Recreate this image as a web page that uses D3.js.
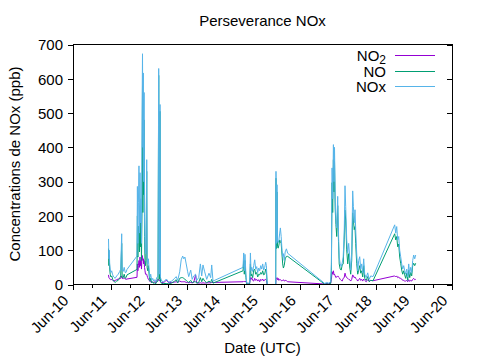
<!DOCTYPE html>
<html><head><meta charset="utf-8">
<script src="https://cdn.jsdelivr.net/npm/d3@7"></script>
<style>
body{margin:0;background:#fff}
svg{display:block}
text{font-family:"Liberation Sans",Arial,sans-serif;fill:#000}
</style>
</head><body>
<svg id="c" width="480" height="360"></svg>
<script>
// time as decimal day of June (UTC)
const dayOfJune = [
 10.937,10.947,10.958,10.968,10.982,11.000,11.021,11.047,11.074,11.113,11.153,11.193,11.232,11.259,11.285,11.298,11.325,11.351,11.377,11.398,11.425,
 11.689,11.699,11.712,11.726,11.741,11.755,11.768,11.781,11.794,11.807,11.823,11.834,11.844,11.855,11.865,11.876,11.887,11.900,11.913,11.926,11.945,11.955,11.971,11.989,12.011,12.032,12.050,12.077,12.103,12.129,12.156,12.182,12.208,12.243,12.261,12.280,12.296,12.309,12.340,
 12.393,12.464,12.525,12.604,12.683,12.723,12.763,12.815,12.855,12.894,12.923,12.953,12.987,13.026,13.053,13.106,13.145,13.185,13.234,13.264,13.317,13.361,13.396,13.430,13.475,13.528,13.588,13.633,13.660,13.694,
 14.486,14.504,14.520,14.538,14.562,14.583,14.623,14.662,14.681,14.697,14.715,14.741,14.768,14.794,14.821,14.847,14.873,14.900,14.926,14.953,14.979,15.005,15.032,15.058,15.084,15.103,15.124,15.348,
 15.356,15.369,15.383,15.396,15.414,15.433,15.454,15.472,15.493,15.515,15.533,15.551,15.573,15.599,15.631,15.665,
 16.641,16.694,16.747,16.799,16.818,16.836,16.852,16.871,16.887,16.900,16.918,16.937,16.958,16.984,17.005,17.024,17.050,17.077,17.103,17.129,17.156,17.177,17.195,17.222,17.248,17.274,17.301,17.327,17.354,17.380,17.398,17.420,17.441,17.459,17.485,17.512,17.538,17.565,17.591,17.617,17.644,17.670,17.697,17.736,17.776,17.815,17.855,17.916,
 18.488,18.515,18.541,18.567,18.594,18.620,18.646,18.673,18.699,18.726,18.752,18.778,18.805,18.831,18.858,18.884,18.910,18.937,18.963,18.989,19.016,19.042
];
const no2 = [
 28,20,18,18,15,13,15,12,10,12,14,16,18,18,25,18,17,20,16,15,16,
 21,60,40,55,70,50,80,55,70,45,85,80,70,75,60,70,50,40,30,30,30,25,20,15,12,8,8,6,7,6,8,5,12,14,15,10,12,8,6,
 5,13,5,6,7,8,6,10,8,8,8,8,6,6,5,6,5,6,28,5,4,5,4,5,4,5,5,5,6,6,
 8,10,8,10,8,4,3,5,20,15,20,12,10,18,12,15,10,14,8,15,12,16,10,14,15,12,0,0,
 15,18,20,14,18,12,15,14,12,10,12,14,10,12,11,8,
 1.5,3,2,4,15,37,30,40,28,30,25,20,22,25,22,20,15,12,10,18,20,33,25,20,18,15,14,10,15,28,25,20,22,18,15,10,14,18,12,15,10,16,12,8,14,10,12,11,
 25,22,25,20,22,18,18,16,12,12,10,10,12,8,14,9,12,10,15,18,14,15
];
const no = [
 105,55,85,45,30,22,25,15,10,6,10,12,18,25,120,20,20,30,18,20,28,
 44,200,80,170,168,95,230,110,180,70,230,580,210,540,262,480,140,70,55,70,330,50,40,55,25,10,18,5,8,3,5,2,8,10,610,15,505,8,3,
 3,3,2,4,10,14,5,18,20,20,18,15,12,8,6,12,5,8,8,4,6,20,8,18,10,5,10,6,15,4,
 40,70,30,70,20,2,1,2,60,25,30,20,42,45,30,35,22,30,28,35,30,40,28,30,45,38,0,0,
 310,105,270,110,106,115,130,125,120,86,60,48,55,75,82,82,
 1,2,1,3,40,297,210,364,270,360,220,175,140,230,125,60,45,42,57,60,130,217,188,101,60,90,51,30,70,209,188,160,169,120,62,30,42,55,33,40,22,55,18,12,23,8,12,11,
 148,130,140,110,118,80,62,42,30,40,28,18,33,12,42,20,35,25,55,62,55,62
];
const nox = [
 133,75,100,60,45,35,40,28,22,18,25,30,38,45,148,40,38,50,35,35,44,
 83,286,120,240,346,150,326,180,250,120,500,673,400,617,300,560,200,120,90,110,364,80,60,75,40,20,30,12,18,10,14,8,20,25,630,30,525,20,10,
 8,16,7,10,18,23,12,37,72,83,75,80,60,37,23,42,15,25,30,12,20,60,25,57,37,15,33,20,57,10,
 50,92,40,88,30,5,3,6,92,40,50,38,55,72,45,52,35,48,40,55,45,60,42,50,65,55,0,0,
 330,120,291,125,122,130,150,165,140,100,81,90,70,95,104,91,
 3,6,4,8,60,340,250,408,300,400,250,190,165,257,150,80,60,52,63,80,150,288,227,130,92,120,80,42,90,273,228,180,218,160,92,40,70,81,45,60,34,75,30,20,34,15,25,23,
 174,150,169,130,140,100,81,60,45,55,40,30,45,22,60,30,50,35,70,86,75,86
];
const seriesNames = ["NO2","NO","NOx"];
const seriesColors = ["#9400d3","#009e73","#56b4e9"];
const yTicks = [0,100,200,300,400,500,600,700];
const xStartDay = 10, xEndDay = 20;

const toDate = d => new Date(Date.UTC(2021,5,1) + (d-1)*864e5);
const svg = d3.select("#c");
const L = 73, R = 452, T = 44.5, B = 284.5;
const x = d3.scaleUtc().domain([toDate(xStartDay), toDate(xEndDay)]).range([L, R]);
const y = d3.scaleLinear().domain([0, 700]).range([B, T]);

// title
svg.append("text").attr("x",(L+R)/2).attr("y",26).attr("text-anchor","middle")
  .style("font-size","15px").text("Perseverance NOx");

// series
const seriesData = [no2, no, nox];
const line = d3.line().x(d => x(d[0])).y(d => y(d[1]));
seriesData.forEach((vals, i) => {
  const pts = dayOfJune.map((d, k) => [toDate(d), vals[k]]);
  svg.append("path").datum(pts).attr("d", line)
    .attr("fill","none").attr("stroke", seriesColors[i]).attr("stroke-width",1);
});

// axes
const gx = svg.append("g").attr("transform",`translate(0,${B})`)
  .call(d3.axisBottom(x).ticks(d3.utcDay.every(1)).tickFormat(d3.utcFormat("%b-%d")).tickSize(5).tickSizeOuter(0));
gx.selectAll("text").attr("y",null).attr("dy",null)
  .attr("transform","translate(-4,17) rotate(-45)").style("text-anchor","end").style("font-size","15px");
const gxm = svg.append("g").attr("transform",`translate(0,${B})`)
  .call(d3.axisBottom(x).ticks(d3.utcHour.every(12)).tickSize(3).tickFormat(""));
const gy = svg.append("g").attr("transform",`translate(${L},0)`)
  .call(d3.axisLeft(y).tickValues(yTicks).tickSize(5).tickPadding(5).tickSizeOuter(0));
gy.selectAll("text").style("font-size","15px").attr("dy","0.35em");
const gr = svg.append("g").attr("transform",`translate(${R},0)`)
  .call(d3.axisRight(y).tickValues(yTicks).tickSize(-5).tickFormat("").tickSizeOuter(0));
[gx,gxm,gy,gr].forEach(g => { g.select(".domain").remove(); g.selectAll("line").attr("stroke","#000").attr("shape-rendering","crispEdges"); g.attr("font-family",null).attr("font-size",null); });

// frame
svg.append("rect").attr("x",L).attr("y",T).attr("width",R-L).attr("height",B-T)
  .attr("fill","none").attr("stroke","#000").attr("stroke-width",1).attr("shape-rendering","crispEdges");

// axis titles
svg.append("text").attr("transform",`translate(20,164) rotate(-90)`).attr("text-anchor","middle")
  .style("font-size","15px").text("Concentrations de NOx (ppb)");
svg.append("text").attr("x",(L+R)/2).attr("y",353).attr("text-anchor","middle")
  .style("font-size","15px").text("Date (UTC)");

// legend
const legY = [55.5, 71.5, 86.5];
seriesNames.forEach((name, i) => {
  const t = svg.append("text").attr("x",386).attr("y",legY[i]+5).attr("text-anchor","end").style("font-size","15px");
  if (name === "NO2") {
    t.append("tspan").text("NO");
    t.append("tspan").attr("dy",3.5).style("font-size","12px").text("2");
  } else t.text(name);
  svg.append("line").attr("x1",395).attr("x2",435).attr("y1",legY[i]).attr("y2",legY[i])
    .attr("stroke",seriesColors[i]).attr("stroke-width",1);
});
</script>
</body></html>
